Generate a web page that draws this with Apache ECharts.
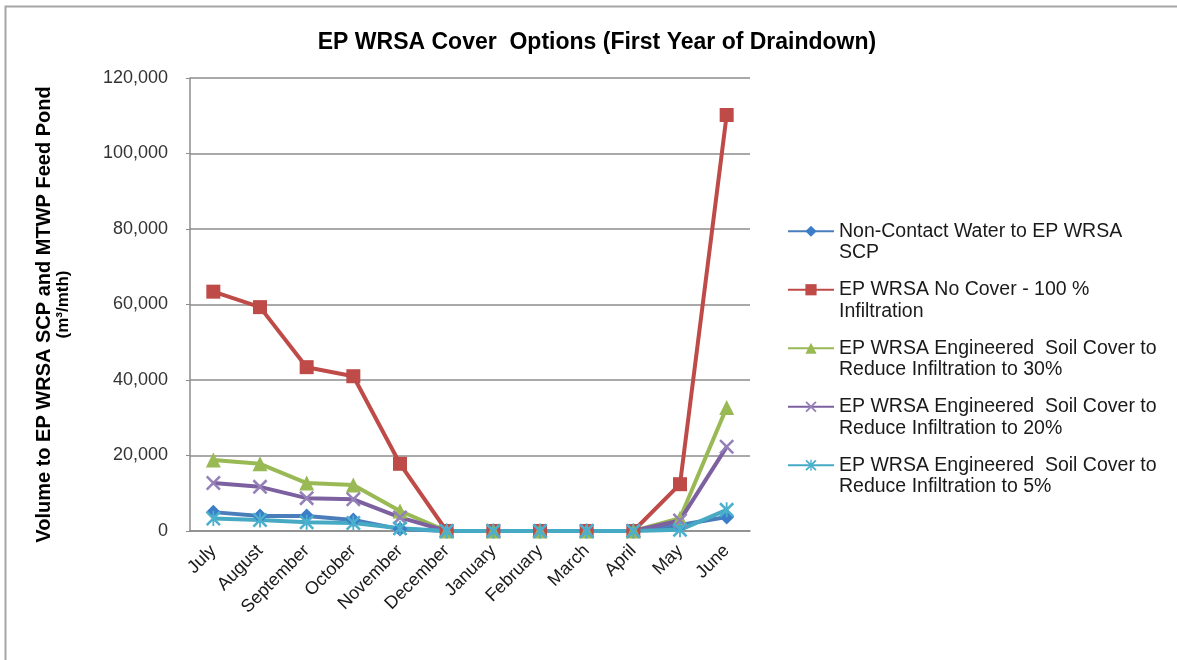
<!DOCTYPE html>
<html>
<head>
<meta charset="utf-8">
<script src="https://cdn.jsdelivr.net/npm/echarts@6/dist/echarts.min.js"></script>
<style>
  html, body { margin: 0; padding: 0; background: #fff; }
  #chart { width: 1177px; height: 660px; }
</style>
</head>
<body>
<div id="chart"></div>
<script>
// Monthly volumes (m³/mth) for the first year of draindown
const months = ['July', 'August', 'September', 'October', 'November', 'December',
  'January', 'February', 'March', 'April', 'May', 'June'];

const nonContact = [5000, 4000, 4000, 2900, 500, 0, 0, 0, 0, 0, 1600, 3700];
const noCover = [63400, 59300, 43400, 41000, 17800, 0, 0, 0, 0, 0, 12400, 110200];
const cover30 = [18800, 17800, 12700, 12200, 5300, 0, 0, 0, 0, 0, 3400, 32700];
const cover20 = [12700, 11700, 8700, 8400, 3600, 0, 0, 0, 0, 0, 2800, 22300];
const cover5 = [3300, 2900, 2300, 2100, 700, 0, 0, 0, 0, 0, 300, 5600];

const seriesNames = [
  'Non-Contact Water to EP WRSA\nSCP',
  'EP WRSA No Cover - 100 %\nInfiltration',
  'EP WRSA Engineered  Soil Cover to\nReduce Infiltration to 30%',
  'EP WRSA Engineered  Soil Cover to\nReduce Infiltration to 20%',
  'EP WRSA Engineered  Soil Cover to\nReduce Infiltration to 5%'
];

const yTicks = [0, 20000, 40000, 60000, 80000, 100000, 120000];

// Stroke-like marker shapes built from thin filled bars
const crossPath = 'path://M0,1.2L1.2,0L10,8.8L8.8,10Z M8.8,0L10,1.2L1.2,10L0,8.8Z';
const starPath = 'path://M0,1.2L1.2,0L10,8.8L8.8,10Z M8.8,0L10,1.2L1.2,10L0,8.8Z M4.4,0L5.6,0L5.6,10L4.4,10Z';

const FONT = 'Liberation Sans, Arial, sans-serif';

function lineSeries(name, data, color, symbol, size, symbolColor) {
  return {
    name: name,
    type: 'line',
    data: data,
    symbol: symbol,
    symbolSize: size,
    showAllSymbol: true,
    lineStyle: { color: color, width: 4 },
    itemStyle: { color: symbolColor || color },
    emphasis: { disabled: true }
  };
}

const chart = echarts.init(document.getElementById('chart'));
chart.setOption({
  animation: false,
  backgroundColor: '#fff',
  textStyle: { fontFamily: FONT },
  title: {
    text: 'EP WRSA Cover  Options (First Year of Draindown)',
    left: 592,
    textAlign: 'center',
    top: 26,
    textStyle: { fontSize: 23, fontWeight: 'bold', color: '#000', fontFamily: FONT }
  },
  graphic: [{
    type: 'rect',
    shape: { x: 5.5, y: 6.5, width: 1200, height: 700 },
    style: { fill: 'none', stroke: '#a6a6a6', lineWidth: 2 },
    silent: true
  }],
  grid: { left: 190, right: 427, top: 78, bottom: 129 },
  legend: {
    orient: 'vertical',
    left: 782,
    top: 194,
    itemWidth: 46,
    itemHeight: 14,
    itemGap: -6,
    data: seriesNames,
    // a leading blank line keeps the icon level with the first text line
    formatter: function (name) { return '\n' + name; },
    textStyle: {
      fontSize: 19.5,
      color: '#1a1a1a',
      lineHeight: 21.5,
      fontFamily: FONT
    }
  },
  xAxis: {
    type: 'category',
    data: months,
    boundaryGap: true,
    axisLine: { lineStyle: { color: '#8c8c8c', width: 1.5 } },
    axisTick: { show: false },
    axisLabel: { rotate: 45, fontSize: 18, color: '#1a1a1a', margin: 17, interval: 0 }
  },
  yAxis: {
    type: 'value',
    min: 0,
    max: 120000,
    interval: 20000,
    name: '{a|Volume to EP WRSA SCP and MTWP Feed Pond}\n{b|(m³/mth)}',
    nameLocation: 'middle',
    nameGap: 117,
    nameRotate: 90,
    nameTextStyle: {
      fontWeight: 'bold',
      color: '#000',
      padding: [0, 20, 0, 0],
      rich: {
        a: { fontSize: 20, fontWeight: 'bold', color: '#000', lineHeight: 19, padding: [0, 0, 0, 0] },
        b: { fontSize: 17, fontWeight: 'bold', color: '#000', lineHeight: 19, padding: [0, 0, 0, 20] }
      }
    },
    axisLine: { show: true, lineStyle: { color: '#8c8c8c', width: 1.5 } },
    axisTick: { show: true, length: 4, lineStyle: { color: '#8c8c8c' } },
    axisLabel: {
      fontSize: 18,
      color: '#333',
      margin: 22,
      formatter: function (v) { return yTicks.indexOf(v) >= 0 ? v.toLocaleString('en-US') : ''; }
    },
    splitLine: { lineStyle: { color: '#8c8c8c', width: 1.5 } }
  },
  series: [
    lineSeries(seriesNames[0], nonContact, '#4a7ebb', 'diamond', 15, '#3b7dc8'),
    lineSeries(seriesNames[1], noCover, '#be4b48', 'rect', 14),
    lineSeries(seriesNames[2], cover30, '#98b954', 'triangle', 15),
    lineSeries(seriesNames[3], cover20, '#7d60a0', crossPath, 15, '#9580b8'),
    lineSeries(seriesNames[4], cover5, '#46aac5', starPath, 15, '#4bb0cc')
  ]
});
</script>
</body>
</html>
